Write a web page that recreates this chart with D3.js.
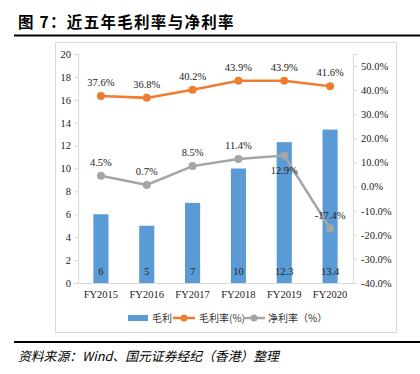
<!DOCTYPE html>
<html>
<head>
<meta charset="utf-8">
<script src="https://cdn.jsdelivr.net/npm/d3@7"></script>
<style>
  body { margin: 0; background: #fff; }
  svg { display: block; }
  .serif { font-family: "Liberation Serif", "DejaVu Serif", serif; }
</style>
</head>
<body>
<svg id="chart" width="420" height="374"></svg>
<script>
var years = ["FY2015", "FY2016", "FY2017", "FY2018", "FY2019", "FY2020"];
var grossProfit = [6, 5, 7, 10, 12.3, 13.4];
var grossMargin = [0.376, 0.368, 0.402, 0.439, 0.439, 0.416];
var netMargin = [0.045, 0.007, 0.085, 0.114, 0.129, -0.174];
var leftTicks = [0, 2, 4, 6, 8, 10, 12, 14, 16, 18, 20];
var rightTicks = [-0.4, -0.3, -0.2, -0.1, 0, 0.1, 0.2, 0.3, 0.4, 0.5];
// label goes under the point for these (index of netMargin)
var netBelow = [4];

var svg = d3.select("#chart");
var serif = "Liberation Serif";
var cjk = "Noto Sans CJK SC";
var pct = d3.formatLocale({ decimal: ".", thousands: ",", grouping: [3], currency: ["", ""], minus: "-" }).format(".1%");

var plot = { left: 78, right: 353, top: 54, bottom: 283 };

// title + rules
svg.append("text")
    .attr("x", 18).attr("y", 28)
    .attr("font-family", cjk)
    .attr("font-weight", "bold")
    .attr("font-size", 15.5)
    .attr("letter-spacing", 1.3)
    .text("图 7：近五年毛利率与净利率");
svg.append("line")
    .attr("x1", 14).attr("x2", 420).attr("y1", 35.5).attr("y2", 35.5)
    .attr("stroke", "#000").attr("stroke-width", 2);
svg.append("line")
    .attr("x1", 14).attr("x2", 420).attr("y1", 342).attr("y2", 342)
    .attr("stroke", "#000").attr("stroke-width", 2);
svg.append("text")
    .attr("x", 18).attr("y", 361)
    .attr("font-family", cjk)
    .attr("font-style", "italic")
    .attr("font-size", 12.8)
    .text("资料来源：Wind、国元证券经纪（香港）整理");

// chart frame
svg.append("rect")
    .attr("x", 55.5).attr("y", 42.5).attr("width", 341).attr("height", 290)
    .attr("fill", "none").attr("stroke", "#d9d9d9");

var x = d3.scaleBand().domain(years).range([plot.left, plot.right]).paddingInner(0.67).paddingOuter(0.335);
var xc = function (d) { return x(d) + x.bandwidth() / 2; };
var yL = d3.scaleLinear().domain([0, 20]).range([plot.bottom, plot.top]);
var yR = d3.scaleLinear().domain([-0.4, 0.55]).range([plot.bottom, plot.top]);

// axes
var left = svg.append("g").attr("transform", "translate(" + plot.left + ",0)")
    .call(d3.axisLeft(yL).tickValues(leftTicks).tickSize(4).tickPadding(3).tickFormat(d3.format("d")));
var right = svg.append("g").attr("transform", "translate(" + plot.right + ",0)")
    .call(d3.axisRight(yR).tickValues(rightTicks).tickSize(4).tickPadding(4).tickFormat(pct));
var bottom = svg.append("g").attr("transform", "translate(0," + plot.bottom + ")")
    .call(d3.axisBottom(x).tickSize(0).tickPadding(8));

[left, right, bottom].forEach(function (g) {
    g.attr("font-family", null);
    g.select(".domain").attr("stroke", "#d9d9d9");
    g.selectAll(".tick line").attr("stroke", "#d9d9d9");
    g.selectAll("text").attr("class", "serif").attr("font-size", 10.5).attr("fill", "#222");
});
bottom.select(".domain").attr("d", "M" + plot.left + ",0.5H" + plot.right);

// bars
svg.selectAll("rect.bar").data(grossProfit).enter().append("rect")
    .attr("class", "bar")
    .attr("x", function (d, i) { return x(years[i]); })
    .attr("width", x.bandwidth())
    .attr("y", function (d) { return yL(d); })
    .attr("height", function (d) { return yL(0) - yL(d); })
    .attr("fill", "#5b9bd5");
svg.selectAll("text.barlabel").data(grossProfit).enter().append("text")
    .attr("class", "serif")
    .attr("x", function (d, i) { return xc(years[i]); })
    .attr("y", plot.bottom - 8)
    .attr("text-anchor", "middle")
    .attr("font-size", 10.5).attr("fill", "#222")
    .text(function (d) { return d; });

function drawLine(values, color, belowIdx) {
    var line = d3.line()
        .x(function (d, i) { return xc(years[i]); })
        .y(function (d) { return yR(d); });
    svg.append("path").datum(values)
        .attr("d", line)
        .attr("fill", "none")
        .attr("stroke", color)
        .attr("stroke-width", 2.5);
    svg.selectAll(null).data(values).enter().append("circle")
        .attr("cx", function (d, i) { return xc(years[i]); })
        .attr("cy", function (d) { return yR(d); })
        .attr("r", 4)
        .attr("fill", color);
    svg.selectAll(null).data(values).enter().append("text")
        .attr("class", "serif")
        .attr("x", function (d, i) { return xc(years[i]); })
        .attr("y", function (d, i) { return yR(d) + (belowIdx.indexOf(i) >= 0 ? 19 : -10); })
        .attr("text-anchor", "middle")
        .attr("font-size", 10.5).attr("fill", "#222")
        .text(function (d) { return pct(d); });
}
drawLine(grossMargin, "#ed7d31", []);
drawLine(netMargin, "#a5a5a5", netBelow);

// legend
var lg = svg.append("g").attr("transform", "translate(0,318)");
lg.append("rect").attr("x", 128).attr("y", -3).attr("width", 20).attr("height", 6).attr("fill", "#5b9bd5");
lg.append("text").attr("x", 152).attr("y", 4).attr("font-family", cjk).attr("font-size", 10).attr("fill", "#333").text("毛利");
lg.append("line").attr("x1", 173).attr("x2", 195).attr("y1", 0).attr("y2", 0).attr("stroke", "#ed7d31").attr("stroke-width", 2.5);
lg.append("circle").attr("cx", 184).attr("cy", 0).attr("r", 3.5).attr("fill", "#ed7d31");
lg.append("text").attr("x", 199).attr("y", 4).attr("font-family", cjk).attr("font-size", 10).attr("fill", "#333").text("毛利率(%)");
lg.append("line").attr("x1", 243).attr("x2", 265).attr("y1", 0).attr("y2", 0).attr("stroke", "#a5a5a5").attr("stroke-width", 2.5);
lg.append("circle").attr("cx", 254).attr("cy", 0).attr("r", 3.5).attr("fill", "#a5a5a5");
lg.append("text").attr("x", 268).attr("y", 4).attr("font-family", cjk).attr("font-size", 10).attr("fill", "#333").text("净利率（%）");
</script>
</body>
</html>
